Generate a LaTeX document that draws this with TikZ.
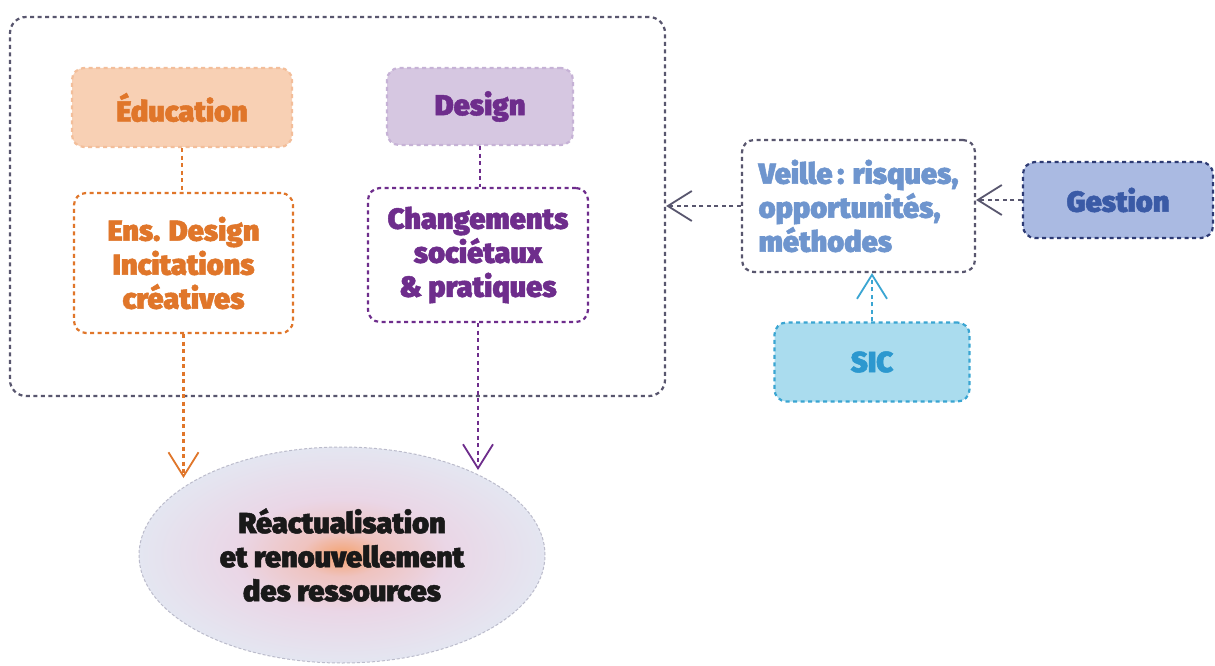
\documentclass[tikz,border=0pt]{standalone}
\usepackage{fontspec}
\setmainfont{Fira Sans}[BoldFont={Fira Sans Black}, BoldFeatures={FakeBold=1.6}]
\usetikzlibrary{arrows.meta,shapes.geometric}
\definecolor{eduorange}{HTML}{E0762A}
\definecolor{edupeach}{HTML}{F8D0B4}
\definecolor{eduline}{HTML}{F3BE9A}
\definecolor{despurple}{HTML}{6E2D8C}
\definecolor{deslilac}{HTML}{D6C7E1}
\definecolor{desline}{HTML}{C6B2D6}
\definecolor{framegray}{HTML}{58566E}
\definecolor{veilleblue}{HTML}{6E95CE}
\definecolor{gesfill}{HTML}{AABAE2}
\definecolor{gesline}{HTML}{2E3B74}
\definecolor{gestext}{HTML}{3A5AA6}
\definecolor{sicfill}{HTML}{AADCEE}
\definecolor{sicline}{HTML}{3AA5D2}
\definecolor{sictext}{HTML}{2C98CF}
\definecolor{glowin}{HTML}{F4A26E}
\definecolor{glowmid}{HTML}{EFC3BF}
\definecolor{glowpink}{HTML}{EAD6E6}
\definecolor{glowout}{HTML}{E4E6F1}
\definecolor{ellline}{HTML}{BBBBCB}
\pgfdeclareradialshading{glow}{\pgfpoint{0bp}{0bp}}{color(0bp)=(glowin); color(5bp)=(glowmid); color(13bp)=(glowpink); color(25bp)=(glowout); color(50bp)=(glowout)}
\begin{document}
\begin{tikzpicture}[x=1pt, y=-1pt,
  every node/.style={font=\bfseries\fontsize{29}{34}\selectfont, align=center},
  box/.style={draw, rounded corners=12pt, line width=2.2pt, dash pattern=on 4pt off 3.5pt},
  link/.style={line width=2.2pt, dash pattern=on 4pt off 3.5pt},
  tip/.style={-{Straight Barb[length=24pt, width=30pt, line width=1.8pt]}}]
  \path[use as bounding box, fill=white] (0,0) rectangle (1215,666);
  \node[box, draw=framegray, rounded corners=16pt, minimum width=655pt, minimum height=379pt] (frame) at (337.5,206.5) {};

  \node[box, draw=eduline, fill=edupeach, text=eduorange, minimum width=220pt, minimum height=79pt] (edu) at (182,107.5) {Éducation};
  \node[box, draw=desline, fill=deslilac, text=despurple, minimum width=186pt, minimum height=77pt] (des) at (480,106.5) {Design};
  \node[box, draw=eduorange, text=eduorange, minimum width=219pt, minimum height=140pt] (ens) at (183.5,263) {Ens. Design\\Incitations\\créatives};
  \node[box, draw=despurple, text=despurple, minimum width=220pt, minimum height=134pt] (chg) at (478,255) {Changements\\sociétaux\\\&~pratiques};
  \node[box, draw=framegray, text=veilleblue, align=left, minimum width=233pt, minimum height=132pt] (veille) at (858.5,206) {Veille\,: risques,\\opportunités,\\méthodes};
  \node[box, draw=gesline, fill=gesfill, text=gestext, minimum width=190pt, minimum height=76pt] (ges) at (1118,200) {Gestion};
  \node[box, draw=sicline, fill=sicfill, text=sictext, minimum width=195pt, minimum height=79pt] (sic) at (872,362) {SIC};
  \node[ellipse, draw=ellline, dash pattern=on 3pt off 2pt, line width=1pt, shading=glow, minimum width=406pt, minimum height=216pt, text=black!90] (res) at (342,555) {Réactualisation\\et renouvellement\\des ressources};

  \coordinate (tipA) at (183,478);
  \coordinate (tipB) at (478,470);
  \draw[link, eduorange] (edu.south) -- (edu.south |- ens.north);
  \draw[link, despurple] (des.south) -- (des.south |- chg.north);
  \draw[link, tip, eduorange] (ens.south) -- (ens.south |- tipA);
  \draw[link, tip, despurple] (chg.south) -- (chg.south |- tipB);
  \draw[link, tip, framegray] (veille.west) -- (veille.west -| frame.east);
  \draw[link, tip, framegray] (ges.west) -- (ges.west -| veille.east);
  \draw[link, tip, sicline] (sic.north) -- (sic.north |- veille.south);
\end{tikzpicture}
\end{document}
